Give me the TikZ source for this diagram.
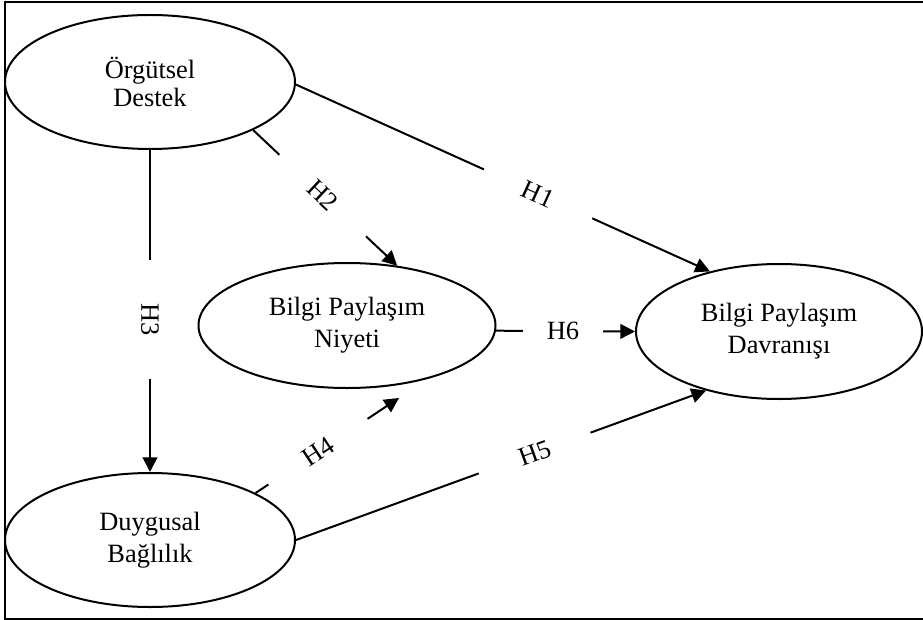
\documentclass[tikz,border=0pt]{standalone}
\usepackage{fontspec}
\setmainfont{Liberation Serif}
\usetikzlibrary{shapes.geometric,arrows.meta}
\begin{document}
\begin{tikzpicture}[x=0.75pt,y=-0.75pt,
  construct/.style={ellipse,draw,line width=1.5pt,inner sep=0pt,align=center,
    font=\fontsize{19.8}{24}\selectfont},
  link/.style={line width=1.5pt},
  arrowlink/.style={link,-{Triangle[length=11pt,width=11pt]}},
  hyp/.style={fill=white,inner sep=0pt,minimum width=89pt,minimum height=18pt,
    font=\fontsize{19.8}{24}\selectfont}
]
\useasboundingbox (0,0) rectangle (923,620);

% outer frame (open on the right)
\draw[line width=1.5pt] (923,1.7) -- (4.5,1.7) -- (4.5,619) -- (923,619);

% constructs
\node[construct,minimum width=217.5pt,minimum height=100.5pt] (OD) at (150,82)
  {Örgütsel\\[-3pt]Destek};
\node[construct,minimum width=222.75pt,minimum height=93.75pt] (BPN) at (347,325.5)
  {Bilgi Paylaşım\\Niyeti};
\node[construct,minimum width=214.5pt,minimum height=101.25pt] (BPD) at (779,331.5)
  {Bilgi Paylaşım\\Davranışı};
\node[construct,minimum width=217.5pt,minimum height=100.5pt] (DB) at (150,540)
  {Duygusal\\Bağlılık};

% hypotheses
\coordinate (h4tip) at (399,398);
\draw[arrowlink] (OD.-1) -- node[hyp,sloped,pos=0.585]{H1} (BPD.139.7);
\draw[arrowlink] (OD.-25.2) -- node[hyp,sloped,pos=0.483]{H2} (BPN.50.6);
\draw[arrowlink] (OD.south) -- node[hyp,rotate=-90,pos=0.526]{H3} (DB.north);
\draw[arrowlink] (DB.24.7) -- node[hyp,sloped,pos=0.435]{H4} (h4tip);
\draw[arrowlink] (DB.east) -- node[hyp,sloped,pos=0.582]{H5} (BPD.219.8);
\draw[arrowlink] (BPN.-2.3) -- node[hyp,sloped,pos=0.482,minimum width=60pt]{H6} (BPD.west);
\end{tikzpicture}
\end{document}
